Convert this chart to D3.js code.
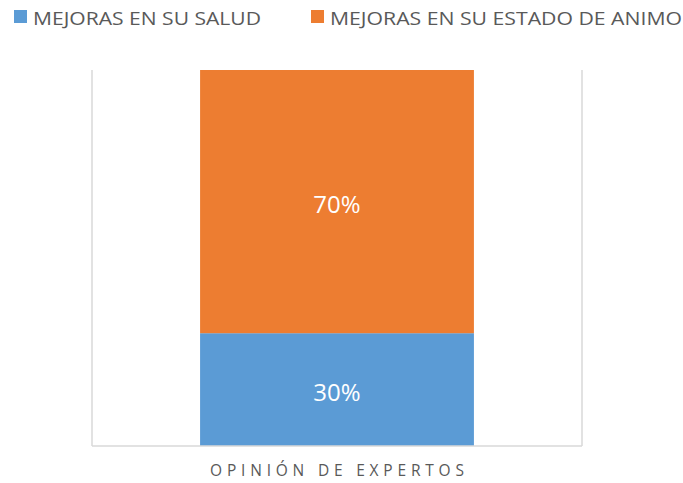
<!DOCTYPE html>
<html><head><meta charset="utf-8">
<script src="https://cdn.jsdelivr.net/npm/d3@7"></script>
<style>body{margin:0;background:#fff}svg{display:block}text{font-family:"Open Sans",sans-serif}</style>
</head><body>
<svg id="c" width="683" height="483"></svg>
<script>
const categories = ["OPINIÓN DE EXPERTOS"];
const seriesNames = ["MEJORAS EN SU SALUD", "MEJORAS EN SU ESTADO DE ANIMO"];
const saludValues = [0.30];
const animoValues = [0.70];
const colors = ["#5b9bd5", "#ed7d31"];

const svg = d3.select("#c");
const plot = {left: 92, right: 582, top: 70, bottom: 446};

const x = d3.scaleBand().domain(categories).range([plot.left, plot.right]).padding(0.283);
const y = d3.scaleLinear().domain([0, 1]).range([plot.bottom, plot.top]);

const rows = categories.map((c, i) => ({cat: c, s0: saludValues[i], s1: animoValues[i]}));
const stack = d3.stack().keys(["s0", "s1"])(rows);

svg.append("line").attr("x1", plot.left).attr("x2", plot.left).attr("y1", plot.top).attr("y2", plot.bottom).attr("stroke", "#d9d9d9").attr("stroke-width", 1.5);
svg.append("line").attr("x1", plot.right).attr("x2", plot.right).attr("y1", plot.top).attr("y2", plot.bottom).attr("stroke", "#d9d9d9").attr("stroke-width", 1.5);

stack.forEach((layer, li) => {
  layer.forEach(d => {
    svg.append("rect")
      .attr("x", x(d.data.cat)).attr("width", x.bandwidth())
      .attr("y", y(d[1])).attr("height", y(d[0]) - y(d[1]))
      .attr("fill", colors[li]);
    svg.append("text")
      .attr("x", x(d.data.cat) + x.bandwidth() / 2)
      .attr("y", (y(d[0]) + y(d[1])) / 2)
      .attr("dy", "0.48em").attr("text-anchor", "middle")
      .attr("fill", "#fff").attr("font-size", 24)
      .text(d3.format(".0%")(d[1] - d[0]));
  });
});

svg.append("line").attr("x1", plot.left).attr("x2", plot.right).attr("y1", plot.bottom).attr("y2", plot.bottom).attr("stroke", "#d9d9d9").attr("stroke-width", 1.5);

const xAxis = svg.append("g").attr("transform", `translate(0,${plot.bottom})`)
  .call(d3.axisBottom(x).tickSize(0).tickPadding(0));
xAxis.select(".domain").remove();
xAxis.selectAll("text").attr("fill", "#595959").attr("font-size", 15.5).attr("dy", null).attr("y", 30)
  .attr("letter-spacing", "4.8px").attr("dx", 2.4)
  .style("font-family", "'Open Sans', sans-serif");

const legendX = [14, 311];
const legendTextLen = [228, 352];
seriesNames.forEach((n, i) => {
  svg.append("rect").attr("x", legendX[i]).attr("y", 10).attr("width", 13).attr("height", 13).attr("fill", colors[i]);
  svg.append("text").attr("x", legendX[i] + 19).attr("y", 25)
    .attr("fill", "#595959").attr("font-size", 19)
    .attr("textLength", legendTextLen[i]).attr("lengthAdjust", "spacingAndGlyphs").text(n);
});
</script>
</body></html>
